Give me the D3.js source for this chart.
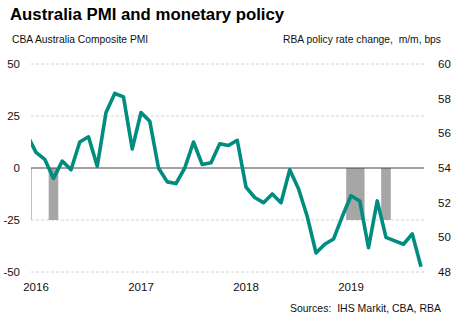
<!DOCTYPE html>
<html>
<head>
<meta charset="utf-8">
<script src="https://cdn.jsdelivr.net/npm/d3@7"></script>
<style>
  body { margin: 0; background: #fff; }
  text { font-family: Arial, "Liberation Sans", sans-serif; fill: #111; white-space: pre; }
</style>
</head>
<body>
<div id="chart"></div>
<script>
// monthly labels, Dec 2015 .. Sep 2019
const months = ["2015-12",
  "2016-01","2016-02","2016-03","2016-04","2016-05","2016-06","2016-07","2016-08","2016-09","2016-10","2016-11","2016-12",
  "2017-01","2017-02","2017-03","2017-04","2017-05","2017-06","2017-07","2017-08","2017-09","2017-10","2017-11","2017-12",
  "2018-01","2018-02","2018-03","2018-04","2018-05","2018-06","2018-07","2018-08","2018-09","2018-10","2018-11","2018-12",
  "2019-01","2019-02","2019-03","2019-04","2019-05","2019-06","2019-07","2019-08","2019-09"];

// CBA Australia Composite PMI
const pmi = [55.9,
  54.9, 54.5, 53.4, 54.4, 53.9, 55.5, 55.8, 54.1, 57.2, 58.3, 58.1, 55.1,
  57.2, 56.7, 54.0, 53.2, 53.1, 54.0, 55.5, 54.2, 54.3, 55.4, 55.3, 55.6,
  52.9, 52.3, 52.0, 52.5, 52.0, 53.9, 52.8, 51.2, 49.1, 49.6, 49.9, 51.2,
  52.4, 52.1, 49.4, 52.1, 50.0, 49.8, 49.6, 50.2, 48.3];

// RBA policy rate changes (bps)
const rateMonths = ["2016-03", "2019-01", "2019-02", "2019-05"];
const rateChanges = [-25, -25, -25, -25];

const yearLabels = ["2016", "2017", "2018", "2019"];
const leftTicks = [-50, -25, 0, 25, 50];
const rightTicks = [48, 50, 52, 54, 56, 58, 60];

const width = 455, height = 321;
const plot = { left: 31, right: 424, top: 64, bottom: 272 };
const step = 8.75;

const svg = d3.select("#chart").append("svg")
  .attr("width", width)
  .attr("height", height);

const x = d3.scaleBand()
  .domain(months)
  .range([36 - 1.5 * step, 36 - 1.5 * step + months.length * step])
  .paddingInner(0).paddingOuter(0);
const xc = m => x(m) + x.bandwidth() / 2;

const yL = d3.scaleLinear().domain([-50, 50]).range([plot.bottom, plot.top]);
const yR = d3.scaleLinear().domain([48, 60]).range([plot.bottom, plot.top]);

svg.append("defs").append("clipPath").attr("id", "plot-clip")
  .append("rect")
  .attr("x", plot.left).attr("y", 0)
  .attr("width", plot.right - plot.left).attr("height", height);

// title and axis captions
svg.append("text")
  .attr("x", 10).attr("y", 20)
  .style("font-size", "16.8px").style("font-weight", "700")
  .style("fill", "#000")
  .text("Australia PMI and monetary policy");

svg.append("text")
  .attr("x", 12).attr("y", 43)
  .style("font-size", "10.3px")
  .text("CBA Australia Composite PMI");

svg.append("text")
  .attr("x", 441).attr("y", 43)
  .attr("text-anchor", "end")
  .style("font-size", "10.3px")
  .text("RBA policy rate change,  m/m, bps");

// gridlines
svg.append("g").selectAll("line")
  .data(leftTicks.filter(d => d !== 0))
  .join("line")
  .attr("x1", plot.left).attr("x2", plot.right)
  .attr("y1", d => yL(d)).attr("y2", d => yL(d))
  .attr("stroke", "#d4d4d4")
  .attr("stroke-width", 1)
  .attr("stroke-dasharray", "3,2");

// bars
svg.append("g").selectAll("rect")
  .data(rateMonths.map((m, i) => ({ m, v: rateChanges[i] })))
  .join("rect")
  .attr("x", d => xc(d.m) - 4.8)
  .attr("width", 9.6)
  .attr("y", d => yL(Math.max(0, d.v)))
  .attr("height", d => Math.abs(yL(d.v) - yL(0)))
  .attr("fill", "#a6a6a6");

// vertical axis stub and zero line
svg.append("line")
  .attr("x1", plot.left + 0.5).attr("x2", plot.left + 0.5)
  .attr("y1", yL(0)).attr("y2", yL(-25))
  .attr("stroke", "#bfbfbf").attr("stroke-width", 1);

svg.append("line")
  .attr("x1", plot.left).attr("x2", plot.right)
  .attr("y1", yL(0)).attr("y2", yL(0))
  .attr("stroke", "#444").attr("stroke-width", 1);

// PMI line
const line = d3.line()
  .x((d, i) => xc(months[i]))
  .y(d => yR(d));

svg.append("path")
  .datum(pmi)
  .attr("clip-path", "url(#plot-clip)")
  .attr("d", line)
  .attr("fill", "none")
  .attr("stroke", "#008c7e")
  .attr("stroke-width", 3.6)
  .attr("stroke-linejoin", "round");

// left ticks
svg.append("g").selectAll("text")
  .data(leftTicks)
  .join("text")
  .attr("x", 20).attr("y", d => yL(d))
  .attr("dy", "0.35em")
  .attr("text-anchor", "end")
  .style("font-size", "11.5px")
  .text(d => d);

// right ticks
svg.append("g").selectAll("text")
  .data(rightTicks)
  .join("text")
  .attr("x", 438).attr("y", d => yR(d))
  .attr("dy", "0.35em")
  .style("font-size", "11.5px")
  .text(d => d);

// year labels
svg.append("g").selectAll("text")
  .data(yearLabels)
  .join("text")
  .attr("x", d => xc(d + "-01"))
  .attr("y", 291)
  .attr("text-anchor", "middle")
  .style("font-size", "11.5px")
  .text(d => d);

svg.append("text")
  .attr("x", 441).attr("y", 312)
  .attr("text-anchor", "end")
  .style("font-size", "10.5px")
  .text("Sources:  IHS Markit, CBA, RBA");
</script>
</body>
</html>
